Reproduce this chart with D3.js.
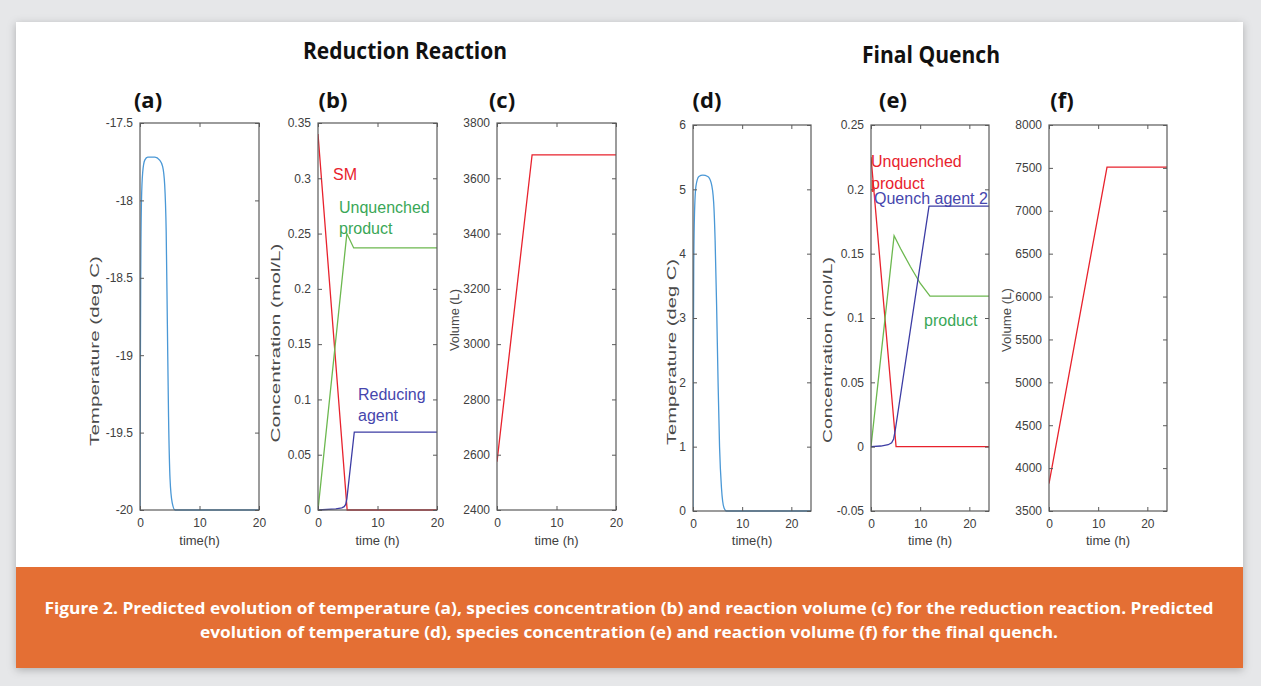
<!DOCTYPE html>
<html>
<head>
<meta charset="utf-8">
<script src="https://cdn.jsdelivr.net/npm/d3@7"></script>
<style>
  body { margin: 0; background: #e6e7e9; }
  svg { display: block; }
</style>
</head>
<body>
<svg id="chart" width="1261" height="686"></svg>
<script>
// ---------------------------------------------------------------
// data (time in hours)

// (a) reduction reaction temperature (deg C)
let tempRed = [[0,-20],[0.05,-19.2],[0.12,-18.5],[0.25,-18.0],[0.45,-17.82],[0.8,-17.74],[1.3,-17.72],
               [2.5,-17.72],[3.3,-17.74],[3.8,-17.78],[4.15,-17.9],[4.4,-18.2],[4.6,-18.8],[4.8,-19.4],
               [5.05,-19.8],[5.4,-19.95],[5.9,-20],[20,-20]];
// (b) reduction reaction concentrations (mol/L)
let smRed      = [[0,0.34],[4.9,0],[20,0]];
let unqRed     = [[0,0],[4.85,0.25],[6.0,0.237],[20,0.237]];
let reducAgent = [[0,0],[3,0.001],[4,0.002],[4.4,0.003],[4.65,0.005],[4.85,0.01],[6.1,0.0705],[20,0.0705]];
// (c) reduction reaction volume (L)
let volRed = [[0,2575],[5.9,3685],[20,3685]];

// (d) final quench temperature (deg C)
let tempQuench = [[0,0],[0.05,2.0],[0.15,3.8],[0.3,4.6],[0.6,5.05],[1.2,5.2],[2.0,5.22],[3.0,5.2],[3.7,5.1],
                  [4.2,4.8],[4.5,4.2],[4.8,3.2],[5.1,2.0],[5.4,1.0],[5.8,0.35],[6.3,0.05],[6.8,0],[24,0]];
// (e) final quench concentrations (mol/L)
let unqQuench = [[0,0.225],[5.1,0],[24,0]];
let product   = [[0,0],[4.7,0.164],[6,0.154],[8,0.140],[10,0.127],[12,0.117],[24,0.117]];
let quenchAg2 = [[0,0],[2,0.0005],[3.5,0.0015],[4.2,0.003],[4.6,0.006],[4.9,0.012],[11.8,0.187],[24,0.187]];
// (f) final quench volume (L)
let volQuench = [[0,3820],[11.8,7510],[24,7510]];

// tick values
let ticksA = [-20,-19.5,-19,-18.5,-18,-17.5];
let ticksB = [0,0.05,0.1,0.15,0.2,0.25,0.3,0.35];
let ticksC = [2400,2600,2800,3000,3200,3400,3600,3800];
let ticksD = [0,1,2,3,4,5,6];
let ticksE = [-0.05,0,0.05,0.1,0.15,0.2,0.25];
let ticksF = [3500,4000,4500,5000,5500,6000,6500,7000,7500,8000];
let timeTicks = [0,10,20];

// ---------------------------------------------------------------
const RED = "#e8222d", GREEN = "#6cb84f", NAVY = "#3c3ca4", SKY = "#4a98d6";
const TXT_RED = "#e8222d", TXT_GREEN = "#3aa757", TXT_NAVY = "#4646ad";

let svg = d3.select("#chart");

// card + shadow
let defs = svg.append("defs");
let flt = defs.append("filter").attr("id", "shadow").attr("x", "-5%").attr("y", "-5%").attr("width", "110%").attr("height", "115%");
flt.append("feDropShadow").attr("dx", 0).attr("dy", 2).attr("stdDeviation", 4).attr("flood-color", "#000").attr("flood-opacity", 0.25);

svg.append("rect").attr("x", 16).attr("y", 22).attr("width", 1227).attr("height", 646)
  .attr("fill", "#fff").attr("filter", "url(#shadow)");
svg.append("rect").attr("x", 16).attr("y", 567).attr("width", 1227).attr("height", 101)
  .attr("fill", "#e46f34");

// caption
let capLines = [
  "Figure 2. Predicted evolution of temperature (a), species concentration (b) and reaction volume (c) for the reduction reaction. Predicted",
  "evolution of temperature (d), species concentration (e) and reaction volume (f) for the final quench."
];
let capWidths = [1169, 858];
svg.selectAll("text.cap").data(capLines).enter().append("text")
  .attr("class", "cap")
  .attr("x", 629).attr("y", (d, i) => 614 + i * 24)
  .attr("text-anchor", "middle")
  .attr("textLength", (d, i) => capWidths[i]).attr("lengthAdjust", "spacingAndGlyphs")
  .attr("font-family", "Open Sans, sans-serif").attr("font-weight", "bold").attr("font-size", 16)
  .attr("fill", "#fff").text(d => d);

// section titles
let titles = [{t: "Reduction Reaction", x: 405, y: 59, w: 204}, {t: "Final Quench", x: 931, y: 63, w: 138}];
svg.selectAll("text.title").data(titles).enter().append("text")
  .attr("x", d => d.x).attr("y", d => d.y).attr("text-anchor", "middle")
  .attr("textLength", d => d.w).attr("lengthAdjust", "spacingAndGlyphs")
  .attr("font-family", "Open Sans, sans-serif").attr("font-weight", "bold").attr("font-size", 23)
  .attr("fill", "#111").text(d => d.t);

// panels
let panels = [
  {tag: "(a)", tagX: 148, box: [140, 123, 259, 510], xMax: 20, yDom: [-20, -17.5], yTicks: ticksA,
   ylab: "Temperature (deg C)", labX: 95, labY: 351, labLen: 190, xlab: "time(h)",
   series: [{d: tempRed, c: SKY, smooth: true}], notes: []},
  {tag: "(b)", tagX: 333, box: [318, 123, 437, 510], xMax: 20, yDom: [0, 0.35], yTicks: ticksB,
   ylab: "Concentration (mol/L)", labX: 276, labY: 343, labLen: 199, xlab: "time (h)",
   series: [{d: smRed, c: RED}, {d: unqRed, c: GREEN}, {d: reducAgent, c: NAVY}],
   notes: [{t: "SM", x: 333, y: 180, c: TXT_RED}, {t: "Unquenched", x: 339, y: 213, c: TXT_GREEN},
           {t: "product", x: 339, y: 234, c: TXT_GREEN}, {t: "Reducing", x: 358, y: 400, c: TXT_NAVY},
           {t: "agent", x: 358, y: 421, c: TXT_NAVY}]},
  {tag: "(c)", tagX: 502, box: [497, 123, 616, 510], xMax: 20, yDom: [2400, 3800], yTicks: ticksC,
   ylab: "Volume (L)", labX: 455, labY: 320, labLen: 62, xlab: "time (h)",
   series: [{d: volRed, c: RED}], notes: []},
  {tag: "(d)", tagX: 707, box: [693, 125, 811, 511], xMax: 24, yDom: [0, 6], yTicks: ticksD,
   ylab: "Temperature (deg C)", labX: 672, labY: 352, labLen: 186, xlab: "time(h)",
   series: [{d: tempQuench, c: SKY, smooth: true}], notes: []},
  {tag: "(e)", tagX: 893, box: [871, 125, 989, 511], xMax: 24, yDom: [-0.05, 0.25], yTicks: ticksE,
   ylab: "Concentration (mol/L)", labX: 828, labY: 350, labLen: 186, xlab: "time (h)",
   series: [{d: unqQuench, c: RED}, {d: product, c: GREEN}, {d: quenchAg2, c: NAVY}],
   notes: [{t: "Unquenched", x: 871, y: 167, c: TXT_RED}, {t: "product", x: 871, y: 189, c: TXT_RED},
           {t: "Quench agent 2", x: 874, y: 204, c: TXT_NAVY}, {t: "product", x: 924, y: 326, c: TXT_GREEN}]},
  {tag: "(f)", tagX: 1062, box: [1049, 125, 1167, 511], xMax: 24, yDom: [3500, 8000], yTicks: ticksF,
   ylab: "Volume (L)", labX: 1007, labY: 320, labLen: 64, xlab: "time (h)",
   series: [{d: volQuench, c: RED}], notes: []}
];

const AX = "#5a5a5a", TICK_TXT = "#404040", TL = 4;

panels.forEach(function(p) {
  let [x0, y0, x1, y1] = p.box;
  let xs = d3.scaleLinear().domain([0, p.xMax]).range([x0, x1]);
  let ys = d3.scaleLinear().domain(p.yDom).range([y1, y0]);
  let g = svg.append("g");

  // panel tag
  g.append("text").attr("x", p.tagX).attr("y", 108).attr("text-anchor", "middle")
    .attr("font-family", "Open Sans, sans-serif").attr("font-weight", "bold").attr("font-size", 22)
    .attr("fill", "#111").text(p.tag);

  // data lines, clipped to the box
  let clipId = "clip" + p.tag.replace(/\W/g, "");
  defs.append("clipPath").attr("id", clipId).append("rect")
    .attr("x", x0).attr("y", y0 - 1).attr("width", x1 - x0).attr("height", y1 - y0 + 2);
  p.series.forEach(function(s) {
    let line = d3.line().x(d => xs(d[0])).y(d => ys(d[1]))
      .curve(s.smooth ? d3.curveMonotoneX : d3.curveLinear);
    g.append("path").attr("d", line(s.d)).attr("fill", "none")
      .attr("stroke", s.c).attr("stroke-width", 1.3).attr("clip-path", "url(#" + clipId + ")");
  });

  // box
  g.append("rect").attr("x", x0).attr("y", y0).attr("width", x1 - x0).attr("height", y1 - y0)
    .attr("fill", "none").attr("stroke", AX).attr("stroke-width", 1.2);

  // y ticks (inside, both sides)
  let yAxisL = d3.axisLeft(ys).tickValues(p.yTicks).tickSizeInner(-TL).tickSizeOuter(0).tickPadding(TL + 3).tickFormat(d => String(d));
  let yAxisR = d3.axisRight(ys).tickValues(p.yTicks).tickSizeInner(-TL).tickSizeOuter(0).tickFormat("");
  let xAxisB = d3.axisBottom(xs).tickValues(timeTicks).tickSizeInner(-TL).tickSizeOuter(0).tickPadding(TL + 4).tickFormat(d => String(d));
  let xAxisT = d3.axisTop(xs).tickValues(timeTicks).tickSizeInner(-TL).tickSizeOuter(0).tickFormat("");

  let axes = [
    g.append("g").attr("transform", "translate(" + x0 + ",0)").call(yAxisL),
    g.append("g").attr("transform", "translate(" + x1 + ",0)").call(yAxisR),
    g.append("g").attr("transform", "translate(0," + y1 + ")").call(xAxisB),
    g.append("g").attr("transform", "translate(0," + y0 + ")").call(xAxisT)
  ];
  axes.forEach(function(a) {
    a.select(".domain").remove();
    a.selectAll("line").attr("stroke", AX);
    a.selectAll("text").attr("fill", TICK_TXT).attr("font-family", "Liberation Sans, Arial, sans-serif").attr("font-size", 12);
  });

  // y axis label: glyphs stretched along the axis like the source figure
  let yl = g.append("text")
    .attr("text-anchor", "middle").attr("dy", "0.35em")
    .attr("font-family", "Liberation Sans, Arial, sans-serif").attr("font-size", 12.5)
    .attr("fill", "#4a4a4a").text(p.ylab);
  let natural = yl.node().getComputedTextLength();
  yl.attr("transform", "translate(" + p.labX + "," + p.labY + ") rotate(-90) scale(" + (p.labLen / natural) + ",1)");

  g.append("text").attr("x", (x0 + x1) / 2).attr("y", 545).attr("text-anchor", "middle")
    .attr("font-family", "Liberation Sans, Arial, sans-serif").attr("font-size", 13)
    .attr("fill", TICK_TXT).text(p.xlab);

  // inline line labels
  g.selectAll("text.note").data(p.notes).enter().append("text")
    .attr("x", d => d.x).attr("y", d => d.y)
    .attr("font-family", "Liberation Sans, Arial, sans-serif").attr("font-size", 16)
    .attr("fill", d => d.c).text(d => d.t);
});
</script>
</body>
</html>
